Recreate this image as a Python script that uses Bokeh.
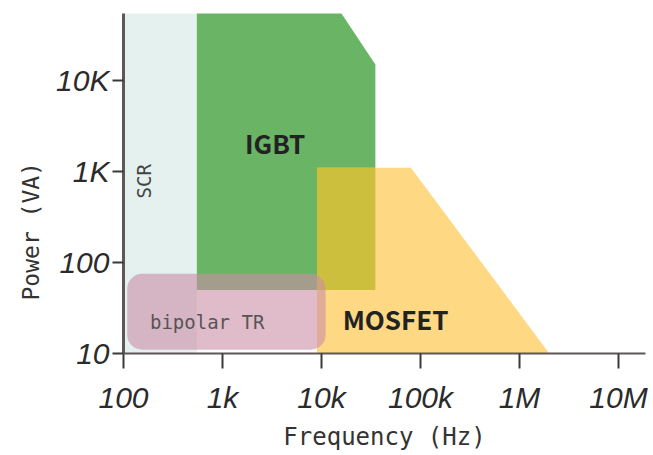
import math
from bokeh.plotting import figure
from bokeh.models import FixedTicker, ColumnDataSource, Title
from bokeh.core.properties import value
from bokeh.embed import file_html
from bokeh.resources import INLINE

# ---- data (Hz, VA) ----
x_ticks = [100, 1000, 10000, 100000, 1000000, 10000000]
x_labels = ["100", "1k", "10k", "100k", "1M", "10M"]
y_ticks = [10, 100, 1000, 10000]
y_labels = ["10", "100", "1K", "10K"]

scr_freq = [100, 550]          # left, right
scr_power = [10, 100000]       # bottom, top

igbt_freq = [550, 550, 15000, 35000, 35000]
igbt_power = [50, 100000, 60000, 15000, 50]

mosfet_freq = [9000, 9000, 80000, 2000000]
mosfet_power = [10, 1100, 1100, 10]

bjt_freq = [109, 11000]        # left, right
bjt_power = [11, 75]           # bottom, top

labels_text = ["IGBT", "MOSFET", "bipolar TR", "SCR"]
labels_freq = [3400, 56000, 700, 161]
labels_power = [2100, 24, 22, 780]

W, H = 653, 455
L, R, T, B = 123, 8, 13, 102
x_px_dec = 99.0
y_px_dec = 91.0
x_end = 10 ** (2 + (W - L - R) / x_px_dec)
y_end = 10 ** (1 + (H - T - B) / y_px_dec)

p = figure(width=W, height=H, x_axis_type="log", y_axis_type="log",
           x_range=(100, x_end), y_range=(10, y_end),
           output_backend="svg", toolbar_location=None,
           min_border_left=L, min_border_right=R, min_border_top=T, min_border_bottom=B)
p.xgrid.visible = False
p.ygrid.visible = False
p.outline_line_color = None
p.background_fill_color = "white"

# SCR
p.quad(left=[scr_freq[0]], right=[scr_freq[1]], bottom=[scr_power[0]], top=[scr_power[1]],
       fill_color="#e4f1ee", line_color=None)
# IGBT
p.patch(igbt_freq, igbt_power, fill_color="#69b565", line_color=None)
# MOSFET
p.patch(mosfet_freq, mosfet_power, fill_color="#fed883", line_color=None)
# IGBT / MOSFET overlap (derived from the two regions)
ov_left = max(min(mosfet_freq), min(igbt_freq))
ov_right = min(max(igbt_freq), max(mosfet_freq))
ov_bottom = max(min(igbt_power), min(mosfet_power))
ov_top = min(max(mosfet_power), max(igbt_power))
p.quad(left=[ov_left], right=[ov_right], bottom=[ov_bottom], top=[ov_top],
       fill_color="#cdbf3e", line_color=None)
# bipolar TR
p.quad(left=[bjt_freq[0]], right=[bjt_freq[1]], bottom=[bjt_power[0]], top=[bjt_power[1]],
       fill_color="#cb8da7", fill_alpha=0.6, line_color=None, border_radius=15)

# region labels
src_big = ColumnDataSource(dict(x=labels_freq[:2], y=labels_power[:2], t=labels_text[:2]))
p.text(x="x", y="y", text="t", source=src_big, text_font=value("Noto Sans CJK JP"),
       text_font_style="bold", text_font_size="26px", text_color="#222222",
       text_align="center", text_baseline="middle")
p.text(x=[labels_freq[2]], y=[labels_power[2]], text=[labels_text[2]],
       text_font=value("DejaVu Sans Mono"), text_font_size="19px", text_color="#555555",
       text_align="center", text_baseline="middle")
p.text(x=[labels_freq[3]], y=[labels_power[3]], text=[labels_text[3]], angle=math.pi / 2,
       text_font=value("DejaVu Sans Mono"), text_font_size="19px", text_color="#444444",
       text_align="center", text_baseline="middle")

# axes
xa = p.xaxis[0]
ya = p.yaxis[0]
xa.ticker = FixedTicker(ticks=x_ticks)
ya.ticker = FixedTicker(ticks=y_ticks)
xa.major_label_overrides = {float(v): s for v, s in zip(x_ticks, x_labels)}
ya.major_label_overrides = {float(v): s for v, s in zip(y_ticks, y_labels)}
xa.minor_tick_line_color = None
ya.minor_tick_line_color = None

for ax in (xa, ya):
    ax.axis_line_color = "#5f5757"
    ax.major_tick_line_color = "#3a3a3a"
    ax.major_tick_line_width = 2
    ax.major_tick_in = 0
    ax.major_label_text_font = "Liberation Sans"
    ax.major_label_text_font_style = "italic"
    ax.major_label_text_font_size = "30px"
    ax.major_label_text_color = "#2b2b2b"

ya.axis_line_width = 3
xa.axis_line_width = 2
xa.major_tick_out = 15
ya.major_tick_out = 11
xa.major_label_standoff = 12
ya.major_label_standoff = 3
xa.axis_label = "Frequency (Hz)"
xa.axis_label_text_font = "DejaVu Sans Mono"
xa.axis_label_text_font_style = "normal"
xa.axis_label_text_font_size = "24px"
xa.axis_label_text_color = "#333333"
xa.axis_label_standoff = 6

# y-axis title as a side title (lets it sit lower than the frame centre)
ytitle = Title(text="Power (VA)", align="left", offset=53, standoff=20,
               text_font="DejaVu Sans Mono", text_font_size="23px",
               text_font_style="normal", text_color="#333333")
p.add_layout(ytitle, "left")

open("out.html", "w").write(file_html(p, INLINE))
